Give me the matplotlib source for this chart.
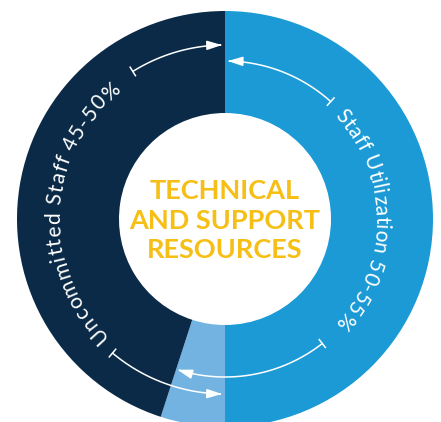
import numpy as np
import matplotlib.pyplot as plt
from matplotlib.path import Path
from matplotlib.patches import FancyArrowPatch
from matplotlib.font_manager import FontProperties

# ring data (clockwise from 12 o'clock)
shares = [50, 5, 45]
colors = ["#1B9AD6", "#72B3E2", "#0A2A47"]
ring_labels = ["Staff Utilization 50-55%", "Uncommitted Staff 45-50%"]
center_lines = ["TECHNICAL", "AND SUPPORT", "RESOURCES"]
gold = "#F6BF16"

W, H = 441, 422
cx, cy = 225, 203
r_out, r_in = 208, 106

fig = plt.figure(figsize=(W / 100, H / 100), dpi=100)
ax = fig.add_axes([0, 0, 1, 1])
ax.pie(shares, colors=colors, startangle=90, counterclock=False,
       radius=r_out, center=(cx, cy),
       wedgeprops=dict(width=r_out - r_in, linewidth=0))
ax.set_xlim(0, W)
ax.set_ylim(0, H)
ax.set_aspect("equal")
ax.axis("off")

# centre title
for line, yb in zip(center_lines, [223, 193, 164]):
    ax.text(cx, yb, line, ha="center", va="baseline", fontsize=19.5,
            fontweight="bold", color=gold, family="Lato")

renderer = fig.canvas.get_renderer()


def arc_text(s, r, mid_deg, size, track=1.0):
    # clockwise text, letter tops pointing outwards
    prop = FontProperties(family="Lato", size=size)
    px = lambda t: renderer.get_text_width_height_descent(t, prop, ismath=False)[0] if t else 0.0
    total = px(s) + track * (len(s) - 1)
    for i, ch in enumerate(s):
        if ch == " ":
            continue
        c = (px(s[:i]) + px(s[:i + 1])) / 2 + track * i
        th = np.radians(mid_deg) + (total / 2 - c) / r
        ax.text(cx + r * np.cos(th), cy + r * np.sin(th), ch, fontproperties=prop,
                color="white", ha="center", va="baseline",
                rotation=np.degrees(th) - 90, rotation_mode="anchor")


arc_text(ring_labels[0], 150, 0, 15, track=0.3)
arc_text(ring_labels[1], 165, 177, 15)

# double arrows across the boundaries: (radius, start angle, end angle)
arrows = [(174, 122, 91), (158, 48, 89), (175, 230, 269), (158, 308, 252.5)]
for r, a0, a1 in arrows:
    th = np.radians(np.linspace(a0, a1, 80))
    pts = np.column_stack([cx + r * np.cos(th), cy + r * np.sin(th)])
    ax.add_patch(FancyArrowPatch(path=Path(pts), color="white", lw=1.1,
                                 arrowstyle="-|>,head_length=0.9,head_width=0.28",
                                 mutation_scale=10))
    t0 = np.radians(a0)
    ax.plot([cx + (r - 5) * np.cos(t0), cx + (r + 5) * np.cos(t0)],
            [cy + (r - 5) * np.sin(t0), cy + (r + 5) * np.sin(t0)],
            color="white", lw=1.1)

fig.savefig("out.png", dpi=100)
